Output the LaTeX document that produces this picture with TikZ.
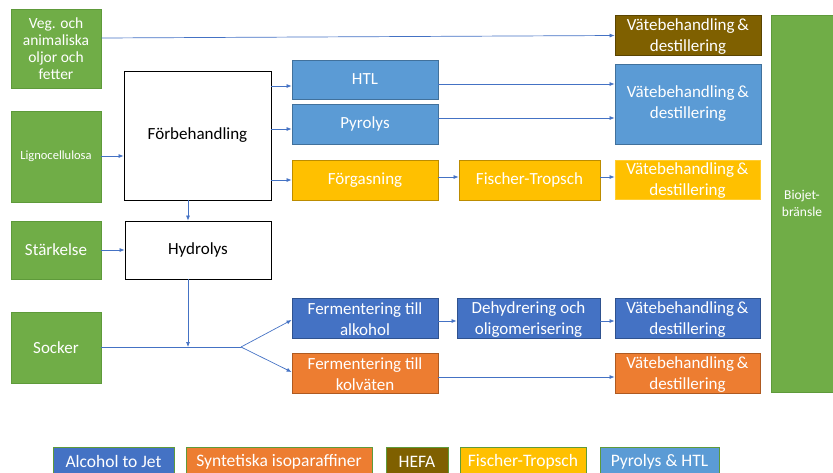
\documentclass[tikz,border=0pt]{standalone}
\usepackage{fontspec}
\setmainfont{Carlito}
\usetikzlibrary{arrows.meta}
\definecolor{cgreen}{HTML}{70AD47}
\definecolor{cgreenb}{HTML}{5E9A3A}
\definecolor{cblue}{HTML}{4472C4}
\definecolor{cblueb}{HTML}{2F528F}
\definecolor{clblue}{HTML}{5B9BD5}
\definecolor{clblueb}{HTML}{41719C}
\definecolor{cyellow}{HTML}{FFC000}
\definecolor{cyellowb}{HTML}{BC8C00}
\definecolor{corange}{HTML}{ED7D31}
\definecolor{corangeb}{HTML}{AE5A21}
\definecolor{cbrown}{HTML}{7F6000}
\definecolor{cbrownb}{HTML}{5A4400}
\newcommand{\twoline}[2]{\parbox{140pt}{\centering\vspace*{3pt}#1\\#2}}
\tikzset{
  x=1pt,y=-1pt,
  bx/.style={rectangle,inner sep=0pt,align=center,text=white,font=\fontsize{17}{21}\selectfont,line width=0.8pt},
  gbox/.style={bx,fill=cgreen,draw=cgreenb},
  wbox/.style={bx,fill=white,draw=black,text=black},
  bbox/.style={bx,fill=cblue,draw=cblueb},
  lbbox/.style={bx,fill=clblue,draw=clblueb},
  ybox/.style={bx,fill=cyellow,draw=cyellowb},
  obox/.style={bx,fill=corange,draw=corangeb},
  brbox/.style={bx,fill=cbrown,draw=cbrownb},
  lg/.style={font=\fontsize{17.5}{19}\selectfont,anchor=north,minimum height=29pt,inner sep=0pt,line width=0.6pt},
  arr/.style={draw=cblue,line width=0.7pt,-{Latex[length=5pt,width=4pt]}},
  ln/.style={draw=cblue,line width=0.7pt},
}
\begin{document}
\begin{tikzpicture}
\path[use as bounding box] (0,0) rectangle (833,472);
\begin{scope}
\clip (0,0) rectangle (833,472);
% inputs
\node[gbox,minimum width=90pt,minimum height=79pt,font=\fontsize{15.5}{17}\selectfont] (veg) at (56,48.5) {Veg. och\\animaliska\\oljor och\\fetter};
\node[gbox,minimum width=90pt,minimum height=91pt,font=\fontsize{12.5}{14}\selectfont] (ligno) at (56,156.5) {Lignocellulosa};
\node[gbox,minimum width=90pt,minimum height=58pt] (stark) at (56,250) {Stärkelse};
\node[gbox,minimum width=90pt,minimum height=71pt] (socker) at (56,347.5) {Socker};
% pretreatment
\node[wbox,minimum width=147pt,minimum height=129pt] (forb) at (197.5,135.5) {Förbehandling};
\node[wbox,minimum width=146pt,minimum height=58pt] (hydro) at (198,250) {Hydrolys};
% processes
\node[lbbox,minimum width=146pt,minimum height=39pt] (htl) at (365,79.5) {HTL};
\node[lbbox,minimum width=146pt,minimum height=40pt] (pyro) at (365,124) {Pyrolys};
\node[ybox,minimum width=146pt,minimum height=40pt] (forg) at (365,180) {Förgasning};
\node[ybox,minimum width=141pt,minimum height=40pt] (ft) at (529.5,180) {Fischer-Tropsch};
\node[bbox,minimum width=146pt,minimum height=40pt] (ferm1) at (365,318) {\twoline{Fermentering till}{alkohol}};
\node[bbox,minimum width=143pt,minimum height=40pt] (dehy) at (528.5,318) {\twoline{Dehydrering och}{oligomerisering}};
\node[obox,minimum width=146pt,minimum height=40pt] (ferm2) at (365,373) {\twoline{Fermentering till}{kolväten}};
% upgrading
\node[brbox,minimum width=146pt,minimum height=40pt] (vbr) at (688,35) {\twoline{Vätebehandling\,\&}{destillering}};
\node[lbbox,minimum width=146pt,minimum height=80pt] (vlb) at (688,104) {Vätebehandling\,\&\\destillering};
\node[ybox,minimum width=145pt,minimum height=39pt,draw=cyellow!80!white] (vy) at (687.5,179.5) {\twoline{Vätebehandling\,\&}{destillering}};
\node[bbox,minimum width=145pt,minimum height=40pt] (vb) at (687.5,318) {\twoline{Vätebehandling\,\&}{destillering}};
\node[obox,minimum width=145pt,minimum height=40pt] (vo) at (687.5,373) {\twoline{Vätebehandling\,\&}{destillering}};
% product
\node[gbox,minimum width=62pt,minimum height=377pt,font=\fontsize{13.5}{17}\selectfont] (bio) at (802,203.5) {Biojet-\\bränsle};
% connectors
\draw[arr] (veg.east |- 0,38) -- (vbr.west |- 0,35.5);
\draw[arr] (ligno.east |- 0,156) -- (forb.west |- 0,156);
\draw[arr] (forb.east |- 0,86) -- (htl.west |- 0,86);
\draw[arr] (forb.east |- 0,129) -- (pyro.west |- 0,129);
\draw[arr] (forb.east |- 0,180) -- (forg.west |- 0,180);
\draw[arr] (htl.east |- 0,84) -- (vlb.west |- 0,84);
\draw[arr] (pyro.east |- 0,118) -- (vlb.west |- 0,118);
\draw[arr] (forg.east |- 0,177) -- (ft.west |- 0,177);
\draw[arr] (ft.east |- 0,177) -- (vy.west |- 0,177);
\draw[arr] (forb.south -| 188,0) -- (hydro.north -| 188,0);
\draw[arr] (stark.east |- 0,250) -- (hydro.west |- 0,250);
\coordinate (m) at (188,347);
\coordinate (j) at (241,347);
\draw[arr] (hydro.south -| m) -- (m);
\draw[ln] (socker.east |- j) -- (j);
\draw[arr] (j) -- (ferm1.west |- 0,320);
\draw[arr] (j) -- (ferm2.west |- 0,372);
\draw[arr] (ferm1.east |- 0,321) -- (dehy.west |- 0,321);
\draw[arr] (dehy.east |- 0,321) -- (vb.west |- 0,321);
\draw[arr] (ferm2.east |- 0,377) -- (vo.west |- 0,377);
% legend
\node[lg,fill=cblue,draw=cgreenb,text=white,minimum width=121pt] (l1) at (113.5,447) {Alcohol to Jet};
\node[lg,fill=corange,draw=cgreenb,text=white,minimum width=186pt] (l2) at (279,447) {Syntetiska isoparaffiner};
\node[lg,fill=cbrown,draw=cgreenb,text=white,minimum width=62pt] (l3) at (417,447) {HEFA};
\node[lg,fill=cyellow,draw=cgreenb,text=white,minimum width=126pt] (l4) at (523,447) {Fischer-Tropsch};
\node[lg,fill=clblue,draw=cgreenb,text=white,minimum width=119pt] (l5) at (659.5,447) {Pyrolys \& HTL};
\end{scope}
\end{tikzpicture}
\end{document}
